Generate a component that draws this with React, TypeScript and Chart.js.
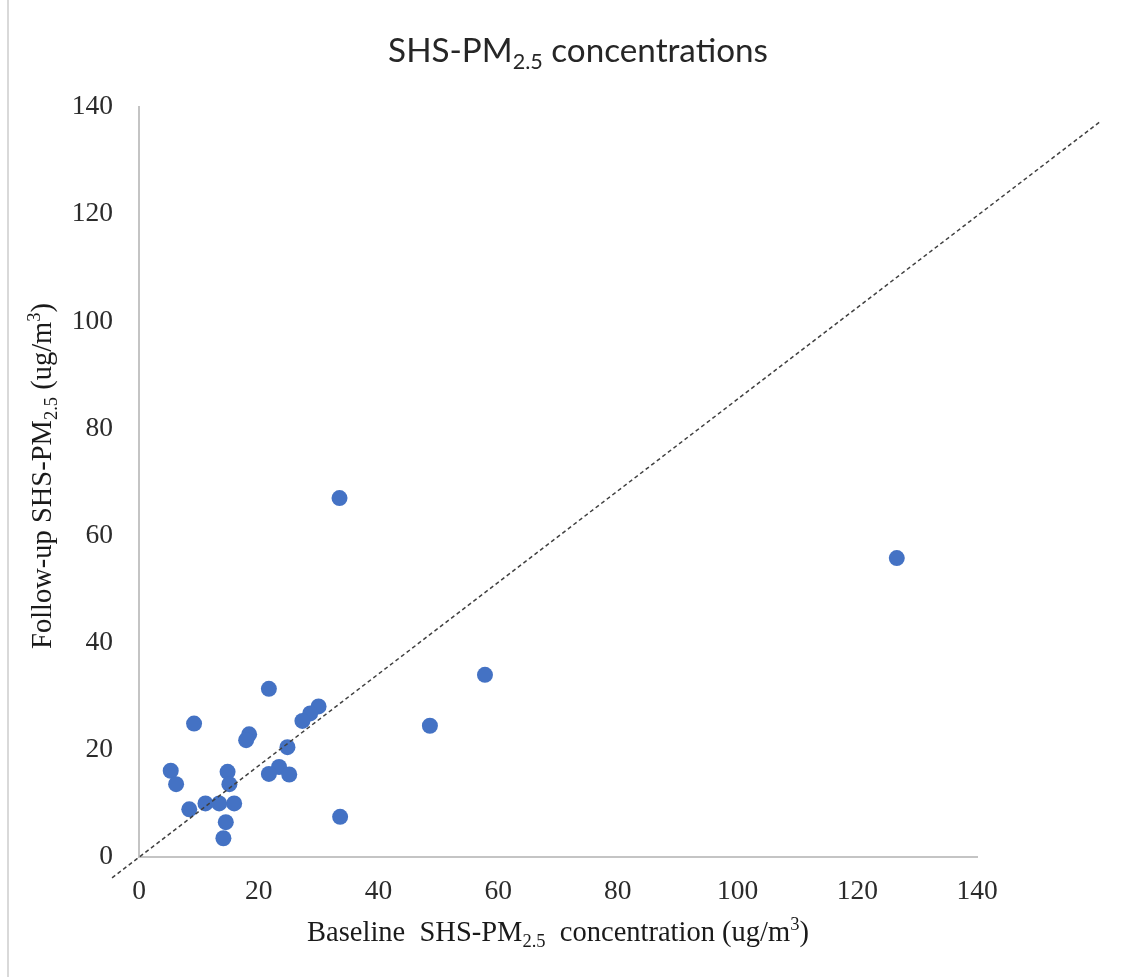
import React, { useEffect, useRef } from "react";
import { Chart, registerables } from "chart.js";

Chart.register(...registerables);

// Baseline SHS-PM2.5 (x) and follow-up SHS-PM2.5 (y), ug/m3
const baselineX = [33.5, 126.6, 57.8, 48.6, 21.7, 9.2, 30.0, 28.6, 27.3, 18.4, 17.9, 24.8, 5.3, 6.2, 14.8, 15.1, 23.4, 21.7, 25.1, 8.4, 11.1, 13.4, 15.9, 14.5, 14.1, 33.6];
const followUpY = [67.0, 55.8, 34.0, 24.5, 31.4, 24.9, 28.1, 26.8, 25.4, 22.9, 21.8, 20.5, 16.1, 13.6, 15.9, 13.6, 16.8, 15.5, 15.4, 8.9, 10.0, 10.0, 10.0, 6.5, 3.5, 7.5];

// Dashed reference line end points
const refLineX = [-4.5, 160.5];
const refLineY = [-3.9, 137.2];

const axisMin = 0;
const axisMax = 140;
const axisStep = 20;

type Seg = { t: string; sub?: boolean; sup?: boolean };
const titleSegs: Seg[] = [{ t: "SHS-PM" }, { t: "2.5", sub: true }, { t: " concentrations" }];
const xTitleSegs: Seg[] = [
  { t: "Baseline  SHS-PM" },
  { t: "2.5", sub: true },
  { t: "  concentration (ug/m" },
  { t: "3", sup: true },
  { t: ")" },
];
const yTitleSegs: Seg[] = [
  { t: "Follow-up SHS-PM" },
  { t: "2.5", sub: true },
  { t: " (ug/m" },
  { t: "3", sup: true },
  { t: ")" },
];

function segFont(family: string, size: number, s: Seg) {
  const sz = s.sub || s.sup ? size * 0.65 : size;
  return `${sz}px ${family}`;
}
function measureRich(ctx: CanvasRenderingContext2D, segs: Seg[], family: string, size: number) {
  let w = 0;
  for (const s of segs) {
    ctx.font = segFont(family, size, s);
    w += ctx.measureText(s.t).width;
  }
  return w;
}
function drawRich(ctx: CanvasRenderingContext2D, segs: Seg[], family: string, size: number, x: number, y: number) {
  let cx = x;
  ctx.textAlign = "left";
  ctx.textBaseline = "alphabetic";
  for (const s of segs) {
    ctx.font = segFont(family, size, s);
    const dy = s.sub ? size * 0.22 : s.sup ? -size * 0.38 : 0;
    ctx.fillText(s.t, cx, y + dy);
    cx += ctx.measureText(s.t).width;
  }
}

const titlesPlugin = {
  id: "richTitles",
  afterDraw(chart: any) {
    const ctx: CanvasRenderingContext2D = chart.ctx;
    const area = chart.chartArea;
    ctx.save();
    // outer border (left)
    ctx.strokeStyle = "#d9d9d9";
    ctx.lineWidth = 2;
    ctx.beginPath();
    ctx.moveTo(8, 0);
    ctx.lineTo(8, chart.height);
    ctx.stroke();

    // main title (fit to width)
    const tFam = "Lato, 'Open Sans', sans-serif";
    const tw1 = measureRich(ctx, titleSegs, tFam, 100);
    const tSize = (380 / tw1) * 100;
    const tw = measureRich(ctx, titleSegs, tFam, tSize);
    ctx.fillStyle = "#262626";
    drawRich(ctx, titleSegs, tFam, tSize, 578 - tw / 2, 62);

    // x title
    const sFam = "'Liberation Serif', 'Times New Roman', serif";
    const sSize = 28.5;
    ctx.fillStyle = "#1a1a1a";
    const xw = measureRich(ctx, xTitleSegs, sFam, sSize);
    const xc = (area.left + area.right) / 2;
    drawRich(ctx, xTitleSegs, sFam, sSize, xc - xw / 2, 941);

    // y title
    const yw = measureRich(ctx, yTitleSegs, sFam, sSize);
    const yc = (area.top + area.bottom) / 2 - 6;
    ctx.translate(51, yc);
    ctx.rotate(-Math.PI / 2);
    drawRich(ctx, yTitleSegs, sFam, sSize, -yw / 2, 0);
    ctx.restore();
  },
};

export default function App() {
  const ref = useRef<HTMLCanvasElement>(null);
  useEffect(() => {
    const canvas = ref.current!;
    const tickFont = { family: "'Liberation Serif', 'Times New Roman', serif", size: 27.5 };
    const chart = new Chart(canvas, {
      type: "scatter",
      data: {
        datasets: [
          {
            type: "line",
            data: refLineX.map((x, i) => ({ x, y: refLineY[i] })),
            borderColor: "#404040",
            borderWidth: 1.5,
            borderDash: [4, 3],
            pointRadius: 0,
            fill: false,
            tension: 0,
            clip: false,
          } as any,
          {
            type: "scatter",
            data: baselineX.map((x, i) => ({ x, y: followUpY[i] })),
            backgroundColor: "#4472C4",
            borderWidth: 0,
            pointRadius: 8,
            pointHoverRadius: 8,
          },
        ],
      },
      options: {
        responsive: false,
        animation: false,
        devicePixelRatio: 1,
        events: [],
        layout: { padding: { left: 0, top: 107, right: 166, bottom: 0 } },
        plugins: {
          legend: { display: false },
          tooltip: { enabled: false },
          title: { display: false },
        },
        scales: {
          x: {
            type: "linear",
            min: axisMin,
            max: axisMax,
            afterFit: (s: any) => {
              s.height = 120;
            },
            grid: { display: false, drawTicks: false },
            border: { display: true, color: "#c4c4c4", width: 2 },
            ticks: {
              stepSize: axisStep,
              font: tickFont,
              color: "#2b2b2b",
              padding: 18,
              maxRotation: 0,
              autoSkip: false,
            },
          },
          y: {
            type: "linear",
            min: axisMin,
            max: axisMax,
            afterFit: (s: any) => {
              s.width = 139;
            },
            grid: { display: false, drawTicks: false },
            border: { display: true, color: "#c4c4c4", width: 2 },
            ticks: {
              stepSize: axisStep,
              font: tickFont,
              color: "#2b2b2b",
              padding: 26,
              autoSkip: false,
            },
          },
        },
      } as any,
      plugins: [titlesPlugin],
    });
    return () => chart.destroy();
  }, []);
  return (
    <div style={{ position: "absolute", left: 0, top: 0, width: 1143, height: 977, background: "#fff" }}>
      <canvas ref={ref} width={1143} height={977} style={{ display: "block", width: 1143, height: 977 }} />
    </div>
  );
}
